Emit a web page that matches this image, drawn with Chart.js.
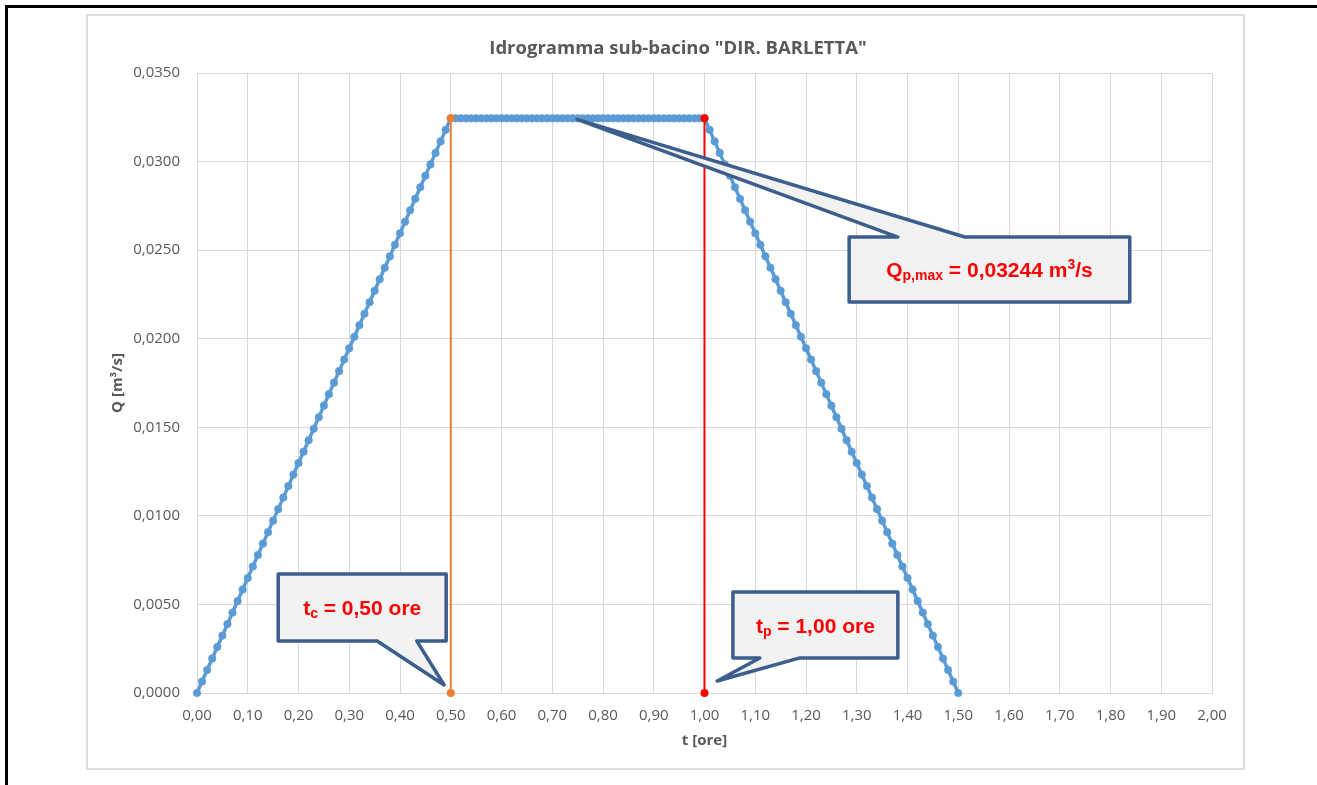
<!DOCTYPE html>
<html>
<head>
<meta charset="utf-8">
<title>Idrogramma sub-bacino DIR. BARLETTA</title>
<script src="https://cdn.jsdelivr.net/npm/chart.js"></script>
<style>
  html, body { margin: 0; padding: 0; background: #fff; }
  body { width: 1317px; height: 785px; position: relative; overflow: hidden; }
  #frame { position: absolute; left: 5px; top: 5px; right: 0; bottom: 0; border-top: 3px solid #000; border-left: 3px solid #000; }
  #box { position: absolute; left: 86px; top: 14px; width: 1155px; height: 752px; border: 2px solid #dedede; }
  #wrap { position: absolute; left: 0; top: 0; width: 1317px; height: 785px; }
</style>
</head>
<body>
<div id="frame"></div>
<div id="box"></div>
<div id="wrap"><canvas id="hydro"></canvas></div>
<script>
// time [ore], every 0.01 h
const tHours = [
  0.00, 0.01, 0.02, 0.03, 0.04, 0.05, 0.06, 0.07, 0.08, 0.09,
  0.10, 0.11, 0.12, 0.13, 0.14, 0.15, 0.16, 0.17, 0.18, 0.19,
  0.20, 0.21, 0.22, 0.23, 0.24, 0.25, 0.26, 0.27, 0.28, 0.29,
  0.30, 0.31, 0.32, 0.33, 0.34, 0.35, 0.36, 0.37, 0.38, 0.39,
  0.40, 0.41, 0.42, 0.43, 0.44, 0.45, 0.46, 0.47, 0.48, 0.49,
  0.50, 0.51, 0.52, 0.53, 0.54, 0.55, 0.56, 0.57, 0.58, 0.59,
  0.60, 0.61, 0.62, 0.63, 0.64, 0.65, 0.66, 0.67, 0.68, 0.69,
  0.70, 0.71, 0.72, 0.73, 0.74, 0.75, 0.76, 0.77, 0.78, 0.79,
  0.80, 0.81, 0.82, 0.83, 0.84, 0.85, 0.86, 0.87, 0.88, 0.89,
  0.90, 0.91, 0.92, 0.93, 0.94, 0.95, 0.96, 0.97, 0.98, 0.99,
  1.00, 1.01, 1.02, 1.03, 1.04, 1.05, 1.06, 1.07, 1.08, 1.09,
  1.10, 1.11, 1.12, 1.13, 1.14, 1.15, 1.16, 1.17, 1.18, 1.19,
  1.20, 1.21, 1.22, 1.23, 1.24, 1.25, 1.26, 1.27, 1.28, 1.29,
  1.30, 1.31, 1.32, 1.33, 1.34, 1.35, 1.36, 1.37, 1.38, 1.39,
  1.40, 1.41, 1.42, 1.43, 1.44, 1.45, 1.46, 1.47, 1.48, 1.49,
  1.50
];
// Q [m3/s]
const qFlow = [
  0.00000, 0.00065, 0.00130, 0.00195, 0.00260, 0.00324, 0.00389, 0.00454, 0.00519, 0.00584,
  0.00649, 0.00714, 0.00779, 0.00843, 0.00908, 0.00973, 0.01038, 0.01103, 0.01168, 0.01233,
  0.01298, 0.01362, 0.01427, 0.01492, 0.01557, 0.01622, 0.01687, 0.01752, 0.01817, 0.01882,
  0.01946, 0.02011, 0.02076, 0.02141, 0.02206, 0.02271, 0.02336, 0.02401, 0.02465, 0.02530,
  0.02595, 0.02660, 0.02725, 0.02790, 0.02855, 0.02920, 0.02984, 0.03049, 0.03114, 0.03179,
  0.03244, 0.03244, 0.03244, 0.03244, 0.03244, 0.03244, 0.03244, 0.03244, 0.03244, 0.03244,
  0.03244, 0.03244, 0.03244, 0.03244, 0.03244, 0.03244, 0.03244, 0.03244, 0.03244, 0.03244,
  0.03244, 0.03244, 0.03244, 0.03244, 0.03244, 0.03244, 0.03244, 0.03244, 0.03244, 0.03244,
  0.03244, 0.03244, 0.03244, 0.03244, 0.03244, 0.03244, 0.03244, 0.03244, 0.03244, 0.03244,
  0.03244, 0.03244, 0.03244, 0.03244, 0.03244, 0.03244, 0.03244, 0.03244, 0.03244, 0.03244,
  0.03244, 0.03179, 0.03114, 0.03049, 0.02984, 0.02920, 0.02855, 0.02790, 0.02725, 0.02660,
  0.02595, 0.02530, 0.02465, 0.02401, 0.02336, 0.02271, 0.02206, 0.02141, 0.02076, 0.02011,
  0.01946, 0.01882, 0.01817, 0.01752, 0.01687, 0.01622, 0.01557, 0.01492, 0.01427, 0.01362,
  0.01298, 0.01233, 0.01168, 0.01103, 0.01038, 0.00973, 0.00908, 0.00843, 0.00779, 0.00714,
  0.00649, 0.00584, 0.00519, 0.00454, 0.00389, 0.00324, 0.00260, 0.00195, 0.00130, 0.00065,
  0.00000
];
// tc and tp vertical markers
const tcX = [0.50, 0.50];
const tcY = [0.00000, 0.03244];
const tpX = [1.00, 1.00];
const tpY = [0.00000, 0.03244];

const chartTitle = 'Idrogramma sub-bacino "DIR. BARLETTA"';
const xTitle = "t [ore]";
const yTitle = "Q [m³/s]";

// callouts: box/tail given in data units (t, Q)
const callouts = [
  {
    text: [["Q", "n"], ["p,max", "sub"], [" = 0,03244 m", "n"], ["3", "sup"], ["/s", "n"]],
    box: [1.285, 0.02574, 1.838, 0.02207], side: "top",
    base: [1.381, 1.513], tip: [0.749, 0.03238]
  },
  {
    text: [["t", "n"], ["c", "sub"], [" = 0,50 ore", "n"]],
    box: [0.160, 0.00672, 0.491, 0.00294], side: "bottom",
    base: [0.355, 0.433], tip: [0.487, 0.00045]
  },
  {
    text: [["t", "n"], ["p", "sub"], [" = 1,00 ore", "n"]],
    box: [1.056, 0.00570, 1.381, 0.00198], side: "bottom",
    base: [1.109, 1.188], tip: [1.025, 0.00068]
  }
];

function pts(xs, ys) {
  let out = [];
  for (let i = 0; i < xs.length; i++) out.push({ x: xs[i], y: ys[i] });
  return out;
}

const gridCol = "#d9d9d9";
const txtCol = "#595959";

const calloutPlugin = {
  id: "callouts",
  afterDatasetsDraw(chart) {
    const ctx = chart.ctx;
    const xs = chart.scales.x, ys = chart.scales.y;
    callouts.forEach(function (c) {
      const L = xs.getPixelForValue(c.box[0]), T = ys.getPixelForValue(c.box[1]);
      const R = xs.getPixelForValue(c.box[2]), B = ys.getPixelForValue(c.box[3]);
      const b1 = xs.getPixelForValue(c.base[0]), b2 = xs.getPixelForValue(c.base[1]);
      const tx = xs.getPixelForValue(c.tip[0]), ty = ys.getPixelForValue(c.tip[1]);
      ctx.save();
      ctx.beginPath();
      if (c.side == "top") {
        ctx.moveTo(L, T); ctx.lineTo(b1, T); ctx.lineTo(tx, ty); ctx.lineTo(b2, T);
        ctx.lineTo(R, T); ctx.lineTo(R, B); ctx.lineTo(L, B);
      } else {
        ctx.moveTo(L, T); ctx.lineTo(R, T); ctx.lineTo(R, B); ctx.lineTo(b2, B);
        ctx.lineTo(tx, ty); ctx.lineTo(b1, B); ctx.lineTo(L, B);
      }
      ctx.closePath();
      ctx.fillStyle = "#f2f2f2";
      ctx.fill();
      ctx.lineWidth = 3.5;
      ctx.lineJoin = "round";
      ctx.strokeStyle = "#3b5e8c";
      ctx.stroke();

      // rich text centred in box
      const fam = "'Liberation Sans', Arial, sans-serif";
      const big = 21, small = 14;
      let w = 0;
      c.text.forEach(function (p) {
        ctx.font = "bold " + (p[1] == "n" ? big : small) + "px " + fam;
        w += ctx.measureText(p[0]).width;
      });
      let x = (L + R) / 2 - w / 2;
      const base = (T + B) / 2 + big * 0.37;
      ctx.fillStyle = "#ff0000";
      ctx.textAlign = "left";
      ctx.textBaseline = "alphabetic";
      c.text.forEach(function (p) {
        ctx.font = "bold " + (p[1] == "n" ? big : small) + "px " + fam;
        let dy = p[1] == "sub" ? 3 : p[1] == "sup" ? -8 : 0;
        ctx.fillText(p[0], x, base + dy);
        x += ctx.measureText(p[0]).width;
      });
      ctx.restore();
    });
  },
  afterDraw(chart) {
    const ctx = chart.ctx;
    ctx.save();
    ctx.font = "bold 18.5px 'Open Sans', sans-serif";
    ctx.fillStyle = txtCol;
    ctx.textAlign = "center";
    ctx.textBaseline = "middle";
    ctx.fillText(chartTitle, 678, 49);
    ctx.restore();
  }
};

Chart.defaults.font.family = "'Open Sans', sans-serif";
Chart.defaults.color = txtCol;

new Chart("hydro", {
  type: "scatter",
  data: {
    datasets: [
      {
        data: pts(tcX, tcY),
        showLine: true,
        clip: false,
        borderColor: "#ed7d31",
        backgroundColor: "#ed7d31",
        borderWidth: 2,
        pointRadius: 4,
        pointBorderWidth: 0
      },
      {
        data: pts(tpX, tpY),
        showLine: true,
        clip: false,
        borderColor: "#ff0000",
        backgroundColor: "#ff0000",
        borderWidth: 2,
        pointRadius: 4,
        pointBorderWidth: 0
      },
      {
        data: pts(tHours, qFlow),
        showLine: true,
        clip: false,
        borderColor: "#5b9bd5",
        backgroundColor: "#5b9bd5",
        borderWidth: 3.5,
        pointRadius: 3.8,
        pointBorderWidth: 0.5
      }
    ]
  },
  options: {
    responsive: true,
    maintainAspectRatio: false,
    animation: false,
    layout: { padding: { top: 73, left: 86, right: 105, bottom: 15 } },
    plugins: {
      legend: { display: false },
      tooltip: { enabled: false }
    },
    scales: {
      x: {
        type: "linear",
        min: 0,
        max: 2,
        afterFit: function (s) { s.height = 77; },
        grid: { color: gridCol, lineWidth: 1, drawTicks: false },
        border: { color: gridCol },
        ticks: {
          stepSize: 0.1,
          padding: 14,
          font: { size: 15 },
          color: txtCol,
          maxRotation: 0,
          callback: function (v) { return v.toFixed(2).replace(".", ","); }
        },
        title: {
          display: true,
          text: xTitle,
          color: txtCol,
          font: { size: 15, weight: "bold" },
          padding: { top: 0, bottom: 20 }
        }
      },
      y: {
        min: 0,
        max: 0.035,
        afterFit: function (s) { s.width = 111; },
        grid: { color: gridCol, lineWidth: 1, drawTicks: false },
        border: { color: gridCol },
        ticks: {
          stepSize: 0.005,
          padding: 17,
          font: { size: 15 },
          color: txtCol,
          callback: function (v) { return v.toFixed(4).replace(".", ","); }
        },
        title: {
          display: true,
          text: yTitle,
          color: txtCol,
          font: { size: 15, weight: "bold" },
          padding: { top: 23, bottom: 0 }
        }
      }
    }
  },
  plugins: [calloutPlugin]
});
</script>
</body>
</html>
